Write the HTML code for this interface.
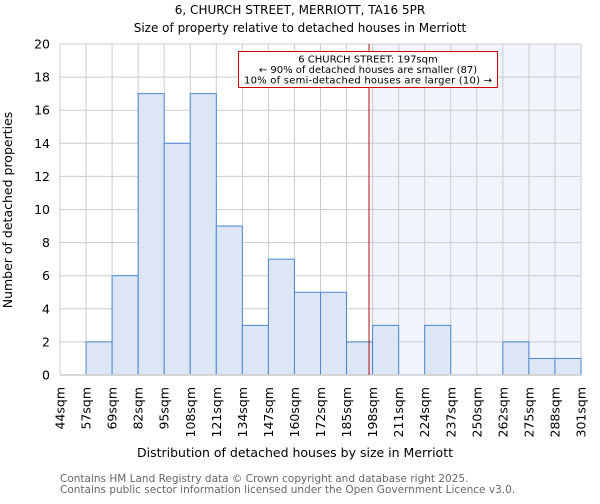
<!DOCTYPE html>
<html><head><meta charset="utf-8"><style>
body{margin:0;background:#fff;font-family:"DejaVu Sans","Liberation Sans",sans-serif;}
</style></head><body>
<svg id="chart" width="600" height="500" xmlns="http://www.w3.org/2000/svg" font-family="DejaVu Sans, Liberation Sans, sans-serif">
<text x="300" y="14" text-anchor="middle" font-size="12" fill="#000">6, CHURCH STREET, MERRIOTT, TA16 5PR</text>
<text x="300" y="32" text-anchor="middle" font-size="12" fill="#000">Size of property relative to detached houses in Merriott</text>
<g id="plot"></g>
<text x="295" y="457" text-anchor="middle" font-size="12.5">Distribution of detached houses by size in Merriott</text>
<text transform="translate(12,210) rotate(-90)" text-anchor="middle" font-size="12.5">Number of detached properties</text>
<text x="60" y="482" font-size="10.5" fill="#666">Contains HM Land Registry data © Crown copyright and database right 2025.</text>
<text x="60" y="493" font-size="10.5" fill="#666">Contains public sector information licensed under the Open Government Licence v3.0.</text>
</svg>
<script>
const binLabels=["44sqm","57sqm","69sqm","82sqm","95sqm","108sqm","121sqm","134sqm","147sqm","160sqm","172sqm","185sqm","198sqm","211sqm","224sqm","237sqm","250sqm","262sqm","275sqm","288sqm","301sqm"];
const counts=[0,2,6,17,14,17,9,3,7,5,5,2,3,0,3,0,0,2,1,1];
const yTicks=[0,2,4,6,8,10,12,14,16,18,20];
const markerIndex=11.92;
const NS="http://www.w3.org/2000/svg";
const g=document.getElementById('plot');
const L=60,R=581,T=44,B=375,yMax=20;
const nb=counts.length;
const xs=i=>L+(R-L)*i/nb;
const ys=v=>B-(B-T)*v/yMax;
function mk(t,a){const e=document.createElementNS(NS,t);for(const k in a)e.setAttribute(k,a[k]);g.appendChild(e);return e;}
const mx=xs(markerIndex);
let sh=mk('rect',{x:mx,y:T,width:R-mx,height:B-T,fill:'#f2f4fc'});


yTicks.forEach(v=>{
 let l=mk('line',{x1:L,x2:R,y1:ys(v),y2:ys(v),stroke:'#cccccc','stroke-width':1});
 
 
 let t=mk('text',{x:L-10,y:ys(v)+4.5,'text-anchor':'end','font-size':'12.5'});t.textContent=v;
 
 
});
binLabels.forEach((s,i)=>{
 let l=mk('line',{x1:xs(i),x2:xs(i),y1:T,y2:B,stroke:'#cccccc','stroke-width':1});
 
 
 let x=xs(i)+4.5,y=B+12;
 let t=mk('text',{x:x,y:y,'text-anchor':'end','font-size':'12.5',transform:`rotate(-90 ${x} ${y})`});t.textContent=s;
 
 
});
counts.forEach((c,i)=>{
 if(c<=0)return;
 let r=mk('rect',{x:xs(i),y:ys(c),width:xs(i+1)-xs(i),height:B-ys(c),fill:'#dce6f4',stroke:'#4a86d4','stroke-width':1});
 
 
});
let ax=mk('line',{x1:L,x2:R,y1:B,y2:B,stroke:'#cccccc','stroke-width':1.5});


let ml=mk('line',{x1:mx-1.5,x2:mx-1.5,y1:T,y2:B,stroke:'#aa1111','stroke-width':1});


let box=mk('rect',{x:238.5,y:51.5,width:259,height:36,fill:'#fff',stroke:'#cc0000','stroke-width':1});


["6 CHURCH STREET: 197sqm","← 90% of detached houses are smaller (87)","10% of semi-detached houses are larger (10) →"].forEach((s,i)=>{
 let t=mk('text',{x:368,y:62.5+i*10.5,'text-anchor':'middle','font-size':'10','textLength':i==2?248:null});
 if(i==2)t.setAttribute('textLength','248'); else t.removeAttribute('textLength');
 t.textContent=s;
 
 
});
</script>
</body></html>
